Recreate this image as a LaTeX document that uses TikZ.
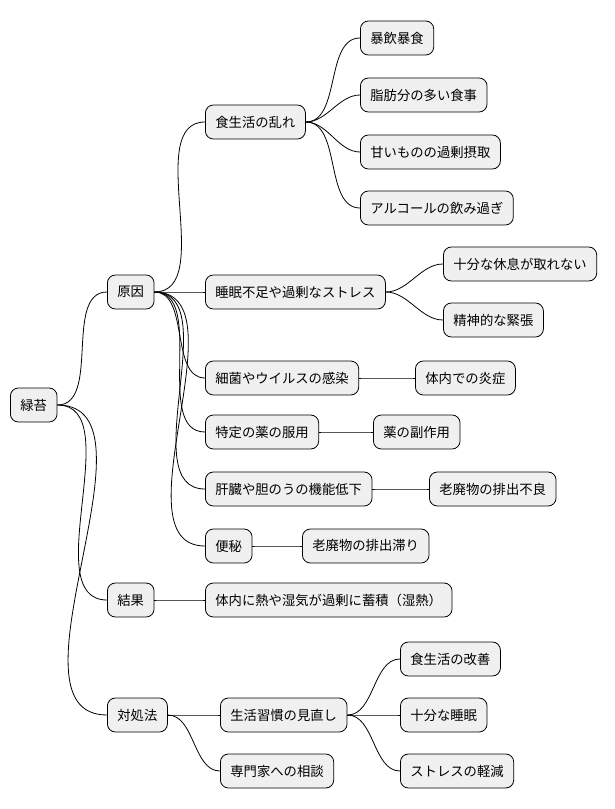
\documentclass[tikz,border=0pt]{standalone}
\usepackage{fontspec}
\setmainfont{Noto Sans CJK JP}
\usetikzlibrary{positioning}

\begin{document}
\begin{tikzpicture} [ % styles
            x=0.75pt, y=-0.75pt, font=\fontsize{10}{12}\selectfont,
            box/.style = {rectangle, rounded corners=6pt, draw=black, fill=black!6, line width=0.6pt,
                          minimum height=25.5pt, inner xsep=7.5pt, anchor=west},
            link/.style = {line width=0.6pt, out=0, in=180, looseness=0.9}
        ]
        \useasboundingbox (0,0) rectangle (614,809);

        % root
        \node [box] (root) at (10,405) {緑苔};

        % level 1
        \node [box] (cause) at (107,292) {原因};
        \node [box] (result) at (107,600) {結果};
        \node [box] (cure) at (107,715) {対処法};

        % causes
        \node [box] (diet) at (205,122) {食生活の乱れ};
        \node [box] (sleep) at (205,292) {睡眠不足や過剰なストレス};
        \node [box] (germ) at (205,378) {細菌やウイルスの感染};
        \node [box] (drug) at (205,432) {特定の薬の服用};
        \node [box] (liver) at (205,489) {肝臓や胆のうの機能低下};
        \node [box] (bowel) at (205,546) {便秘};

        % diet leaves
        \node [box] (d1) at (360,38) {暴飲暴食};
        \node [box] (d2) at (360,95) {脂肪分の多い食事};
        \node [box] (d3) at (360,152) {甘いものの過剰摂取};
        \node [box] (d4) at (360,208) {アルコールの飲み過ぎ};

        % other leaves
        \node [box] (s1) at (443,264) {十分な休息が取れない};
        \node [box] (s2) at (443,320) {精神的な緊張};
        \node [box] (g1) at (415,378) {体内での炎症};
        \node [box] (r1) at (373,432) {薬の副作用};
        \node [box] (l1) at (429,489) {老廃物の排出不良};
        \node [box] (b1) at (302,546) {老廃物の排出滞り};

        % result
        \node [box] (heat) at (205,600) {体内に熱や湿気が過剰に蓄積（湿熱）};

        % cure
        \node [box] (habit) at (220,715) {生活習慣の見直し};
        \node [box] (expert) at (220,771) {専門家への相談};
        \node [box] (c1) at (400,659) {食生活の改善};
        \node [box] (c2) at (400,715) {十分な睡眠};
        \node [box] (c3) at (400,771) {ストレスの軽減};

        % links
        \foreach \a/\b in {root/cause, root/result, root/cure,
                cause/diet, cause/sleep, cause/germ, cause/drug, cause/liver, cause/bowel,
                diet/d1, diet/d2, diet/d3, diet/d4, sleep/s1, sleep/s2,
                germ/g1, drug/r1, liver/l1, bowel/b1, result/heat,
                cure/habit, cure/expert, habit/c1, habit/c2, habit/c3}
            \draw [link] (\a.east) to (\b.west);

    \end{tikzpicture}
\end{document}
